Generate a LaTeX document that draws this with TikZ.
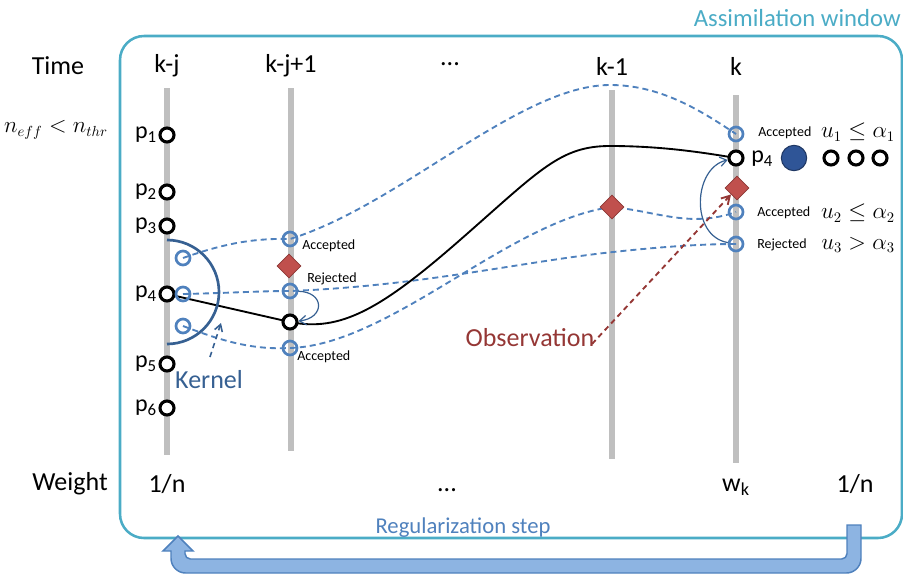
\documentclass[tikz,border=0pt]{standalone}
\usepackage{fontspec}
\setmainfont{Carlito}
\usetikzlibrary{arrows.meta,shapes.geometric}
\pgfdeclarelayer{bg}
\pgfsetlayers{bg,main}
\definecolor{teal1}{RGB}{75,172,198}
\definecolor{dashblue}{RGB}{79,129,189}
\definecolor{kblue}{RGB}{54,96,146}
\definecolor{dred}{RGB}{192,80,77}
\definecolor{dredb}{RGB}{140,56,54}
\definecolor{obsred}{RGB}{149,55,53}
\definecolor{barg}{RGB}{191,191,191}
\definecolor{arrfill}{RGB}{141,180,226}
\definecolor{bigdot}{RGB}{47,85,151}
\definecolor{bigdotb}{RGB}{32,56,100}
\begin{document}
\begin{tikzpicture}[x=0.75pt,y=-0.75pt,
  pk/.style={circle, draw=black, fill=white, line width=2.3pt, minimum size=10.5pt, inner sep=0pt},
  pbl/.style={circle, draw=dashblue, line width=2pt, minimum size=10.5pt, inner sep=0pt},
  obsd/.style={diamond, fill=dred, draw=dredb, line width=0.6pt, minimum width=18pt, minimum height=18pt, inner sep=0pt},
  timebar/.style={line width=4.5pt, draw=barg},
  trail/.style={draw=dashblue, line width=1.4pt, dash pattern=on 4.5pt off 3pt},
  traj/.style={draw=black, line width=1.4pt},
  move/.style={draw=kblue, line width=0.9pt, -{Straight Barb[length=5pt,width=7pt]}},
  big/.style={font=\fontsize{19.5}{22}\selectfont},
  smalllbl/.style={font=\fontsize{10.5}{12}\selectfont, anchor=west, inner sep=0pt},
  plab/.style={font=\fontsize{18}{20}\selectfont, anchor=east, inner sep=1pt},
  mth/.style={font=\fontsize{16}{18}\selectfont}
]
\useasboundingbox (0,0) rectangle (903,575);

% assimilation window
\draw[teal1, line width=1.9pt, rounded corners=18pt] (120,36) rectangle (902,538);
\node[font=\fontsize{18.5}{21}\selectfont, text=teal1, anchor=east, inner sep=0pt] (aw) at (901,18) {Assimilation window};

% row labels
\node[big] (time) at (58,66) {Time};
\node[big] (weight) at (70,484) {Weight};
\node[mth] (neff) at (56,130) {$n_{eff} < n_{thr}$};

% column headers
\node[big] (h1) at (167,66) {k-j};
\node[big] (h2) at (291,66) {k-j+1};
\node[big] (h3) at (450,64) {...};
\node[big] (h4) at (612,66) {k-1};
\node[big] (h5) at (736,66) {k};

% weights
\node[big] (w1) at (167,484) {1/n};
\node[big] (w2) at (447,490) {...};
\node[big] (w3) at (736,487) {w\textsubscript{k}};
\node[big] (w4) at (855,484) {1/n};

% particles at k-j
\node[pk] (p1) at (167,135) {};
\node[pk] (p2) at (167,192) {};
\node[pk] (p3) at (167,226) {};
\node[pk] (p4) at (167,294) {};
\node[pk] (p5) at (167,364) {};
\node[pk] (p6) at (167,408) {};
\node[plab] at (p1.west) {p\textsubscript{1}};
\node[plab] at (p2.west) {p\textsubscript{2}};
\node[plab] at (p3.west) {p\textsubscript{3}};
\node[plab] at (p4.west) {p\textsubscript{4}};
\node[plab] at (p5.west) {p\textsubscript{5}};
\node[plab] at (p6.west) {p\textsubscript{6}};

% kernel samples
\node[pbl] (s1) at (183,258) {};
\node[pbl] (s2) at (183,294) {};
\node[pbl] (s3) at (183,326) {};

% column k-j+1
\node[pbl] (a1) at (290,239) {};
\node[obsd] (d1) at (289,266) {};
\node[pbl] (r1) at (290,291) {};
\node[pk] (c2) at (290,322) {};
\node[pbl] (a2) at (290,348) {};
\node[smalllbl] at (302,246) {Accepted};
\node[smalllbl] at (307,279) {Rejected};
\node[smalllbl] at (297,357) {Accepted};

% column k-1
\node[obsd] (d2) at (612,207) {};

% column k
\node[pbl] (ka1) at (736,134) {};
\node[pk] (kp4) at (736,158) {};
\node[obsd] (kd) at (737,188) {};
\node[pbl] (ka2) at (736,212) {};
\node[pbl] (kr) at (736,244) {};
\node[smalllbl] at (758,133) {Accepted};
\node[smalllbl] at (757,213) {Accepted};
\node[smalllbl] at (757,245) {Rejected};
\node[font=\fontsize{18}{20}\selectfont, anchor=west, inner sep=0pt] (kp4l) at (751,159) {p\textsubscript{4}};
\node[circle, fill=bigdot, draw=bigdotb, line width=0.8pt, minimum size=19pt, inner sep=0pt] (bd) at (794,158) {};
\node[pk] (e1) at (831,158) {};
\node[pk] (e2) at (856,158) {};
\node[pk] (e3) at (880,158) {};
\node[mth] (m1) at (858,132) {$u_1 \le \alpha_1$};
\node[mth] (m2) at (858,213) {$u_2 \le \alpha_2$};
\node[mth] (m3) at (858,245) {$u_3 > \alpha_3$};

% labels
\node[big, text=kblue] (kern) at (209,380) {Kernel};
\coordinate (kernfoot) at (210,357);
\coordinate (kerntip) at (221,323);
\node[big, text=obsred] (obs) at (530,338) {Observation};
\coordinate (obsfoot) at (592,344);
\node[font=\fontsize{17}{19}\selectfont, text=dashblue] (reg) at (463,528) {Regularization step};

\begin{pgfonlayer}{bg}
  % time bars
  \draw[timebar] (167,88) -- (167,455);
  \draw[timebar] (291,88) -- (291,451);
  \draw[timebar] (612,90) -- (612,459);
  \draw[timebar] (736,95) -- (736,463);
  % dashed particle trails
  \draw[trail] (s1.center) .. controls (220,245) and (250,238) .. (a1.center)
     .. controls (400,205) and (520,85) .. (610,85)
     .. controls (660,85) and (700,110) .. (ka1.center);
  \draw[trail] (s2.center) .. controls (230,293) and (260,291) .. (r1.center)
     .. controls (420,286) and (520,262) .. (613,252)
     .. controls (660,247) and (700,244) .. (kr.center);
  \draw[trail] (s3.center) .. controls (220,340) and (250,350) .. (a2.center)
     .. controls (390,345) and (510,220) .. (d2.center)
     .. controls (660,212) and (690,228) .. (ka2.center);
  % trajectory
  \draw[traj] (p4.center) -- (c2.center)
     .. controls (340,332) and (380,310) .. (460,240)
     .. controls (540,170) and (560,146) .. (610,146)
     .. controls (660,146) and (700,152) .. (kp4.center);
\end{pgfonlayer}

% kernel
\draw[kblue, line width=2pt] (167,240) arc[start angle=-90, end angle=90, radius=52];
\draw[kblue, line width=1.2pt, dash pattern=on 4pt off 3pt, -{Straight Barb[length=5pt,width=6pt]}] (kernfoot) -- (kerntip);

% moves
\draw[move] (r1) .. controls (325,292) and (325,318) .. (c2);
\draw[move] (kr) .. controls (690,236) and (693,168) .. (kp4);

% observation arrow
\draw[obsred, line width=1.4pt, dash pattern=on 4pt off 3pt, -{Straight Barb[length=6pt,width=7pt]}] (obsfoot) -- (kd);

% regularization arrow
\draw[fill=arrfill, draw=dashblue, line width=1.1pt]
  (847,525) -- (861,525) [rounded corners=11pt] -- (861,573) -- (171,573) [sharp corners] -- (171,551)
  -- (163,551) -- (178,536) -- (193,551) -- (185,551) [rounded corners=4pt] -- (185,559) -- (847,559) [sharp corners] -- cycle;
\end{tikzpicture}
\end{document}
